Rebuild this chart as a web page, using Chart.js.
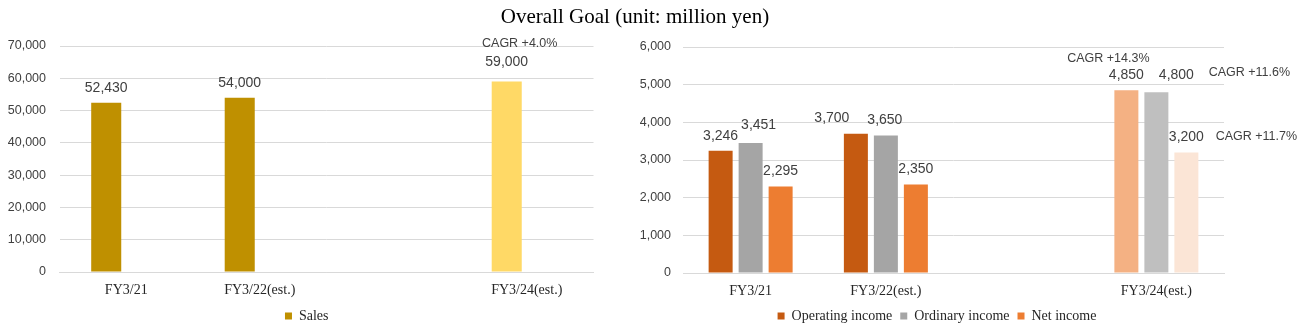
<!DOCTYPE html>
<html>
<head>
<meta charset="utf-8">
<script src="https://cdn.jsdelivr.net/npm/chart.js@4.4.1/dist/chart.umd.min.js"></script>
<style>
  body { margin: 0; background: #fff; }
  #wrap { position: relative; width: 1307px; height: 330px; overflow: hidden; }
  #title { position: absolute; left: 0; top: 4px; width: 1270px; text-align: center;
           font: 21px "Liberation Serif", "Times New Roman", serif; color: #000; }
  #salesChart { position: absolute; left: 0; top: 0; }
  #incomeChart { position: absolute; left: 630px; top: 0; }
</style>
</head>
<body>
<div id="wrap">
  <canvas id="salesChart" width="630" height="330"></canvas>
  <canvas id="incomeChart" width="677" height="330"></canvas>
  <div id="title">Overall Goal (unit: million yen)</div>
</div>
<script>
// categories (the empty slot keeps the gap before FY3/24)
const categories = ['FY3/21', 'FY3/22(est.)', '', 'FY3/24(est.)'];

// million yen
const sales = [52430, 54000, null, 59000];
const operatingIncome = [3246, 3700, null, 4850];
const ordinaryIncome = [3451, 3650, null, 4800];
const netIncome = [2295, 2350, null, 3200];

// growth rate to FY3/24
const salesCagr = [null, null, null, '+4.0%'];
const operatingCagr = [null, null, null, '+14.3%'];
const ordinaryCagr = [null, null, null, '+11.6%'];
const netCagr = [null, null, null, '+11.7%'];

// y axis ticks
const salesTicks = [0, 10000, 20000, 30000, 40000, 50000, 60000, 70000];
const incomeTicks = [0, 1000, 2000, 3000, 4000, 5000, 6000];

const fmt = v => v.toLocaleString('en-US');
const sansFont = '"Liberation Sans", Arial, sans-serif';
const serifFont = '"Liberation Serif", "Times New Roman", serif';
const gridColor = '#D9D9D9';

// hand-placed label offsets [dx, dy]
const salesNudge = [[0, 0], [0, 0], null, [0, -4]];
const operatingNudge = [[0, 0], [-24, 0], null, [0, 0]];
const ordinaryNudge = [[8, -3], [-1, 0], null, [20, -2]];
const netNudge = [[0, 0], [0, 0], null, [0, 0]];

const valueLabels = {
  id: 'valueLabels',
  afterDatasetsDraw(chart) {
    const ctx = chart.ctx;
    ctx.save();
    ctx.textAlign = 'center';
    ctx.textBaseline = 'middle';
    ctx.fillStyle = '#404040';
    chart.data.datasets.forEach((ds, i) => {
      const meta = chart.getDatasetMeta(i);
      meta.data.forEach((bar, j) => {
        const v = ds.data[j];
        if (v == null) return;
        const n = (ds.nudge && ds.nudge[j]) || [0, 0];
        ctx.font = '14px ' + sansFont;
        ctx.fillText(fmt(v), bar.x + n[0], bar.y - 15 + n[1]);
        const g = ds.cagr && ds.cagr[j];
        if (g) {
          ctx.font = '12.5px ' + sansFont;
          ctx.fillText('CAGR ' + g, bar.x + ds.cagrAt[0], bar.y + ds.cagrAt[1]);
        }
      });
    });
    ctx.restore();
  }
};

// moves the legend sideways after layout
const legendShift = {
  id: 'legendShift',
  afterLayout(chart, args, opts) {
    if (chart.legend && opts.dx) {
      chart.legend.left += opts.dx;
      chart.legend.right += opts.dx;
    }
  }
};

function yAxis(ticks, width, pad) {
  return {
    min: ticks[0],
    max: ticks[ticks.length - 1],
    afterFit: s => { s.width = width; },
    afterBuildTicks: s => { s.ticks = ticks.map(v => ({ value: v })); },
    grid: { color: gridColor, drawTicks: false },
    border: { display: false },
    ticks: { padding: pad, color: '#404040', font: { family: sansFont, size: 12.5 }, callback: fmt }
  };
}

function xAxis(height, pad) {
  return {
    afterFit: s => { s.height = height; },
    grid: { display: false, drawTicks: false },
    border: { color: gridColor },
    ticks: { padding: pad, color: '#262626', font: { family: serifFont, size: 14 }, maxRotation: 0, autoSkip: false }
  };
}

function legend() {
  return {
    position: 'bottom',
    labels: {
      boxWidth: 7, boxHeight: 7, padding: 8,
      color: '#262626',
      font: { family: serifFont, size: 14 },
      filter: item => item.text !== ''
    }
  };
}

new Chart(document.getElementById('salesChart'), {
  type: 'bar',
  data: {
    labels: categories,
    datasets: [{
      label: 'Sales',
      data: sales,
      backgroundColor: ['#BF9000', '#BF9000', '#BF9000', '#FFD966'],
      categoryPercentage: 0.6,
      barPercentage: 0.75,
      nudge: salesNudge,
      cagr: salesCagr,
      cagrAt: [13, -38]
    }, {
      label: '',
      data: [null, null, null, null],
      categoryPercentage: 0.6,
      barPercentage: 0.75
    }]
  },
  options: {
    responsive: false,
    animation: false,
    layout: { padding: { left: 4, right: 36.5, top: 46, bottom: -3 } },
    scales: {
      x: xAxis(29, 9.5),
      y: yAxis(salesTicks, 55.5, 13.5)
    },
    plugins: { legend: legend(), legendShift: { dx: 8 }, tooltip: { enabled: false } }
  },
  plugins: [valueLabels, legendShift]
});

new Chart(document.getElementById('incomeChart'), {
  type: 'bar',
  data: {
    labels: categories,
    datasets: [{
      label: 'Operating income',
      data: operatingIncome,
      backgroundColor: ['#C55A11', '#C55A11', '#C55A11', '#F4B183'],
      nudge: operatingNudge,
      cagr: operatingCagr,
      cagrAt: [-18, -32]
    }, {
      label: 'Ordinary income',
      data: ordinaryIncome,
      backgroundColor: ['#A5A5A5', '#A5A5A5', '#A5A5A5', '#BFBFBF'],
      nudge: ordinaryNudge,
      cagr: ordinaryCagr,
      cagrAt: [93, -20]
    }, {
      label: 'Net income',
      data: netIncome,
      backgroundColor: ['#ED7D31', '#ED7D31', '#ED7D31', '#FBE5D6'],
      nudge: netNudge,
      cagr: netCagr,
      cagrAt: [70, -16]
    }]
  },
  options: {
    responsive: false,
    animation: false,
    datasets: { bar: { categoryPercentage: 0.6654, barPercentage: 0.8 } },
    layout: { padding: { left: 4, right: 83, top: 47, bottom: -3 } },
    scales: {
      x: xAxis(28, 9.5),
      y: yAxis(incomeTicks, 49, 12)
    },
    plugins: { legend: legend(), legendShift: { dx: 8 }, tooltip: { enabled: false } }
  },
  plugins: [valueLabels, legendShift]
});
</script>
</body>
</html>
